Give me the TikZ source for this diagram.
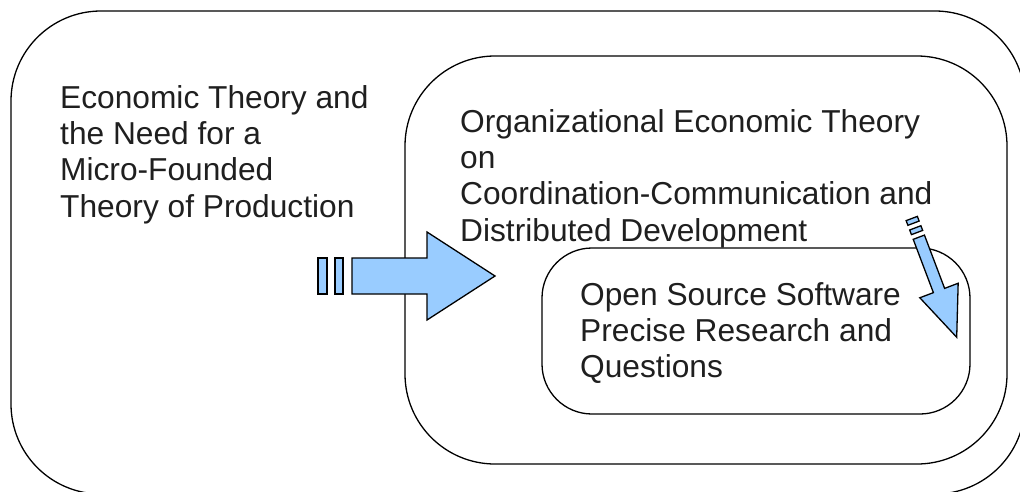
\documentclass[tikz,border=0pt]{standalone}
\usepackage{fontspec}
\setmainfont{Liberation Sans}
\usetikzlibrary{positioning}
\definecolor{arrowblue}{HTML}{99CCFF}

\begin{document}
\begin{tikzpicture}[
        x=1pt, y=-1pt,
        box/.style={rectangle, draw, line width=1.3pt, inner sep=0pt, outer sep=0pt},
        txt/.style={align=left, inner sep=0pt, text=black!88, font=\fontsize{31.7}{36.4}\selectfont},
        stripe/.style={draw, line width=1.3pt, fill=arrowblue, line join=miter}
        ]
        \useasboundingbox (0,0) rectangle (1020,491);
        \clip (0,0) rectangle (1020,491);

        \node[box, rounded corners=90pt, minimum width=1014pt, minimum height=483pt] (outer) at (518,252.5) {};
        \node[box, rounded corners=90pt, minimum width=602pt, minimum height=408pt] (middle) at (706,260) {};
        \node[box, rounded corners=50pt, minimum width=428pt, minimum height=166pt] (inner) at (756,331) {};

        \node[txt, below right=74pt and 49pt of outer.north west] (econ) {Economic Theory and\\the Need for a\\Micro-Founded\\Theory of Production};
        \node[txt, below right=53pt and 55pt of middle.north west] (orgtheory) {Organizational Economic Theory\\on\\Coordination-Communication and\\Distributed Development};
        \node[txt, below right=34pt and 38pt of inner.north west] (oss) {Open Source Software\\Precise Research and\\Questions};

        \draw[stripe] (318,258) rectangle (327,294);
        \draw[stripe] (335,258) rectangle (343,294);
        \draw[stripe] (352,258) -- (427,258) -- (427,232) -- (495,276) -- (427,320) -- (427,294) -- (352,294) -- cycle;

        \begin{scope}[shift={(939,290.5)}, x={(0.354pt,-0.935pt)}, y={(0.935pt,0.354pt)}]
            \draw[stripe] (-77,-6) -- (-72,-6) -- (-72,6) -- (-77,6) -- cycle;
            \draw[stripe] (-67,-6) -- (-62,-6) -- (-62,6) -- (-67,6) -- cycle;
            \draw[stripe] (-57,-6) -- (0,-6) -- (0,-20.5) -- (50,0) -- (0,20.5) -- (0,6) -- (-57,6) -- cycle;
        \end{scope}
    \end{tikzpicture}
\end{document}
